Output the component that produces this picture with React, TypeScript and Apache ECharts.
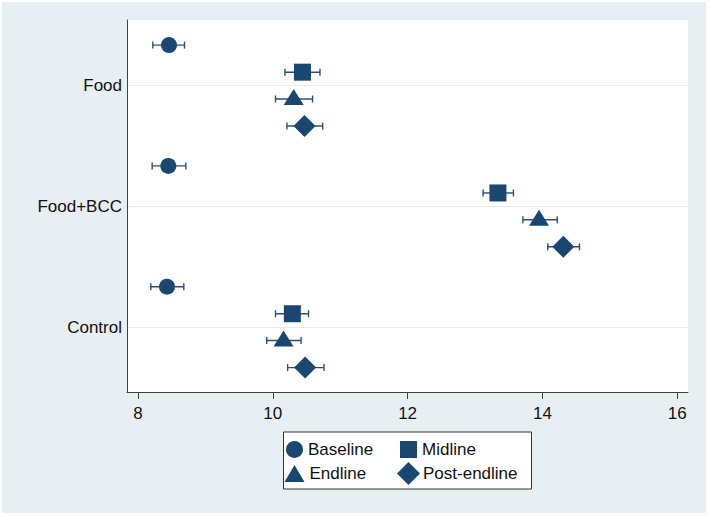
import React, { useEffect, useRef } from "react";
import * as echarts from "echarts";

const groups = ["Food", "Food+BCC", "Control"];
const phases = ["Baseline", "Midline", "Endline", "Post-endline"];
const xTicks = [8, 10, 12, 14, 16];

const baselineMean = [8.46, 8.45, 8.43];
const baselineLow = [8.22, 8.21, 8.19];
const baselineHigh = [8.69, 8.71, 8.68];

const midlineMean = [10.44, 13.34, 10.29];
const midlineLow = [10.18, 13.12, 10.04];
const midlineHigh = [10.7, 13.57, 10.53];

const endlineMean = [10.31, 13.95, 10.16];
const endlineLow = [10.04, 13.71, 9.91];
const endlineHigh = [10.59, 14.22, 10.42];

const postMean = [10.47, 14.31, 10.48];
const postLow = [10.21, 14.08, 10.22];
const postHigh = [10.74, 14.55, 10.76];

const NAVY = "#1a476f";
const BAR = "#2c4f73";
const FONT = "'Liberation Sans', Arial, sans-serif";

export default function App() {
  const ref = useRef<HTMLDivElement>(null);

  useEffect(() => {
    if (!ref.current) return;
    const chart = echarts.init(ref.current, undefined, { renderer: "svg" });

    const phaseData = [
      { name: phases[0], mean: baselineMean, low: baselineLow, high: baselineHigh, off: -0.336, symbol: "circle", size: 16, symOff: [0, 0] },
      { name: phases[1], mean: midlineMean, low: midlineLow, high: midlineHigh, off: -0.112, symbol: "rect", size: 17, symOff: [0, 0] },
      { name: phases[2], mean: endlineMean, low: endlineLow, high: endlineHigh, off: 0.11, symbol: "triangle", size: [20, 16], symOff: [0, -2] },
      { name: phases[3], mean: postMean, low: postLow, high: postHigh, off: 0.334, symbol: "diamond", size: 22, symOff: [0, 0] },
    ];

    const series: any[] = [];
    phaseData.forEach((p) => {
      series.push({
        name: p.name + " CI",
        type: "custom",
        z: 2,
        encode: { x: [0, 1], y: 2 },
        data: groups.map((_, i) => [p.low[i], p.high[i], i + 1 + p.off]),
        renderItem: (params: any, api: any) => {
          const a = api.coord([api.value(0), api.value(2)]);
          const b = api.coord([api.value(1), api.value(2)]);
          const y = a[1];
          const c = 3.5;
          const st = { stroke: BAR, lineWidth: 1.4 };
          return {
            type: "group",
            children: [
              { type: "line", shape: { x1: a[0], y1: y, x2: b[0], y2: y }, style: st },
              { type: "line", shape: { x1: a[0], y1: y - c, x2: a[0], y2: y + c }, style: st },
              { type: "line", shape: { x1: b[0], y1: y - c, x2: b[0], y2: y + c }, style: st },
            ],
          };
        },
      });
      series.push({
        name: p.name,
        type: "scatter",
        z: 3,
        symbol: p.symbol,
        symbolSize: p.size,
        symbolOffset: p.symOff,
        symbolKeepAspect: false,
        itemStyle: { color: NAVY, opacity: 1 },
        data: groups.map((_, i) => [p.mean[i], i + 1 + p.off]),
      });
    });

    const legendCommon = {
      orient: "vertical",
      padding: 0,
      z: 10,
      textStyle: { fontSize: 17, color: "#111", fontFamily: FONT },
      selectedMode: false,
    };

    chart.setOption({
      animation: false,
      backgroundColor: "#ffffff",
      textStyle: { fontFamily: FONT },
      graphic: [
        {
          type: "rect",
          z: -10,
          shape: { x: 2, y: 2, width: 704, height: 511 },
          style: { fill: "#e8eff2" },
        },
        {
          type: "rect",
          z: 5,
          shape: { x: 283.5, y: 432, width: 248, height: 57 },
          style: { fill: "#ffffff", stroke: "#333333", lineWidth: 1 },
        },
      ],
      legend: [
        { ...legendCommon, left: 286, top: 441, itemWidth: 17, itemHeight: 17, data: [phases[0]] },
        { ...legendCommon, left: 400, top: 441, itemWidth: 17, itemHeight: 17, data: [phases[1]] },
        { ...legendCommon, left: 284.5, top: 465, itemWidth: 20, itemHeight: 17, data: [phases[2]] },
        {
          ...legendCommon,
          left: 397,
          top: 462,
          itemWidth: 23,
          itemHeight: 23,
          data: [phases[3]],
          textStyle: { ...legendCommon.textStyle, padding: [0, 0, 0, -2] },
        },
      ],
      grid: {
        left: 127,
        top: 20,
        width: 561,
        height: 372,
        show: true,
        backgroundColor: "#ffffff",
        borderWidth: 0,
      },
      xAxis: {
        type: "value",
        min: 7.837,
        max: 16.16,
        axisLine: { show: true, lineStyle: { color: "#404040", width: 1 } },
        axisTick: { show: true, length: 7, inside: false, customValues: xTicks, lineStyle: { color: "#404040" } },
        axisLabel: { customValues: xTicks, fontSize: 17, color: "#111", margin: 13, fontFamily: FONT },
        splitLine: { show: false },
      },
      yAxis: {
        type: "value",
        inverse: true,
        min: 0.456,
        max: 3.536,
        axisLine: { show: true, lineStyle: { color: "#404040", width: 1 } },
        axisTick: { show: false, customValues: [1, 2, 3] },
        axisLabel: {
          customValues: [1, 2, 3],
          fontSize: 17,
          color: "#111",
          margin: 5,
          fontFamily: FONT,
          formatter: (v: number) => groups[Math.round(v) - 1] ?? "",
        },
        splitLine: { show: true, lineStyle: { color: "#e4ecef", width: 1 } },
      },
      series,
    });

    return () => chart.dispose();
  }, []);

  return (
    <div
      ref={ref}
      style={{ position: "absolute", left: 0, top: 0, width: 709, height: 516 }}
    />
  );
}
